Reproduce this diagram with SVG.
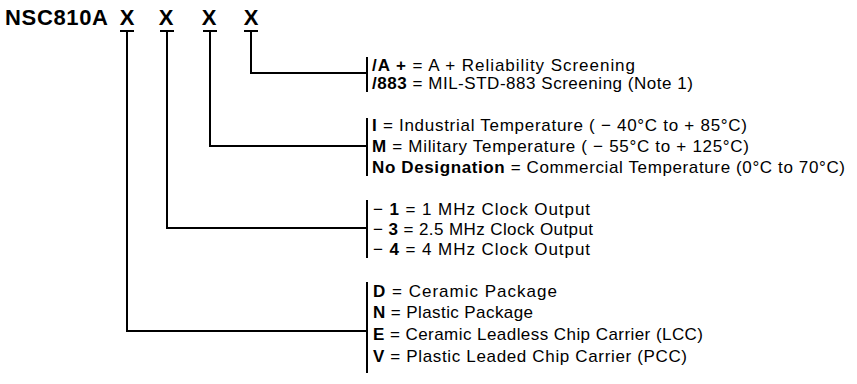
<svg xmlns="http://www.w3.org/2000/svg" width="857" height="384" viewBox="0 0 857 384">
<style>
.t{font-family:"Liberation Sans",Arial,sans-serif;font-size:17px;fill:#000}
.b{font-weight:bold}
.h{font-family:"Liberation Sans",Arial,sans-serif;font-size:22px;font-weight:bold;fill:#000}
.ln{stroke:#000;stroke-width:2;fill:none}
</style>
<rect width="857" height="384" fill="#fff"/>
<g id="title">
<text class="h" x="5" y="25" textLength="103">NSC810A</text>
<text class="h" x="127" y="25" text-anchor="middle">X</text>
<text class="h" x="166" y="25" text-anchor="middle">X</text>
<text class="h" x="209" y="25" text-anchor="middle">X</text>
<text class="h" x="251" y="25" text-anchor="middle">X</text>
</g>
<g id="connectors" class="ln">
<path d="M120 31H134M127 31V331H367"/>
<path d="M160 31H174M167 31V228H367"/>
<path d="M203 31H217M210 31V146H367"/>
<path d="M244 31H258M251 31V73H367"/>
</g>
<g id="screening">
<path class="ln" d="M367 57V92"/>
<text class="t" x="372" y="71" textLength="263"><tspan class="b">/A +</tspan> = A + Reliability Screening</text>
<text class="t" x="372" y="89" textLength="321"><tspan class="b">/883</tspan> = MIL-STD-883 Screening (Note 1)</text>
</g>
<g id="temperature">
<path class="ln" d="M367 118V176"/>
<text class="t" x="372" y="131" textLength="375"><tspan class="b">I</tspan> = Industrial Temperature ( − 40°C to + 85°C)</text>
<text class="t" x="372" y="152" textLength="377"><tspan class="b">M</tspan> = Military Temperature ( − 55°C to + 125°C)</text>
<text class="t" x="372" y="173" textLength="473"><tspan class="b">No Designation</tspan> = Commercial Temperature (0°C to 70°C)</text>
</g>
<g id="clock">
<path class="ln" d="M367 200V258"/>
<text class="t" x="373" y="215" textLength="217">− <tspan class="b">1</tspan> = 1 MHz Clock Output</text>
<text class="t" x="373" y="235" textLength="220">− <tspan class="b">3</tspan> = 2.5 MHz Clock Output</text>
<text class="t" x="373" y="255" textLength="217">− <tspan class="b">4</tspan> = 4 MHz Clock Output</text>
</g>
<g id="package">
<path class="ln" d="M367 282V373"/>
<text class="t" x="373" y="297" textLength="184"><tspan class="b">D</tspan> = Ceramic Package</text>
<text class="t" x="373" y="318" textLength="160"><tspan class="b">N</tspan> = Plastic Package</text>
<text class="t" x="373" y="340" textLength="330"><tspan class="b">E</tspan> = Ceramic Leadless Chip Carrier (LCC)</text>
<text class="t" x="373" y="362" textLength="314"><tspan class="b">V</tspan> = Plastic Leaded Chip Carrier (PCC)</text>
</g>
</svg>
